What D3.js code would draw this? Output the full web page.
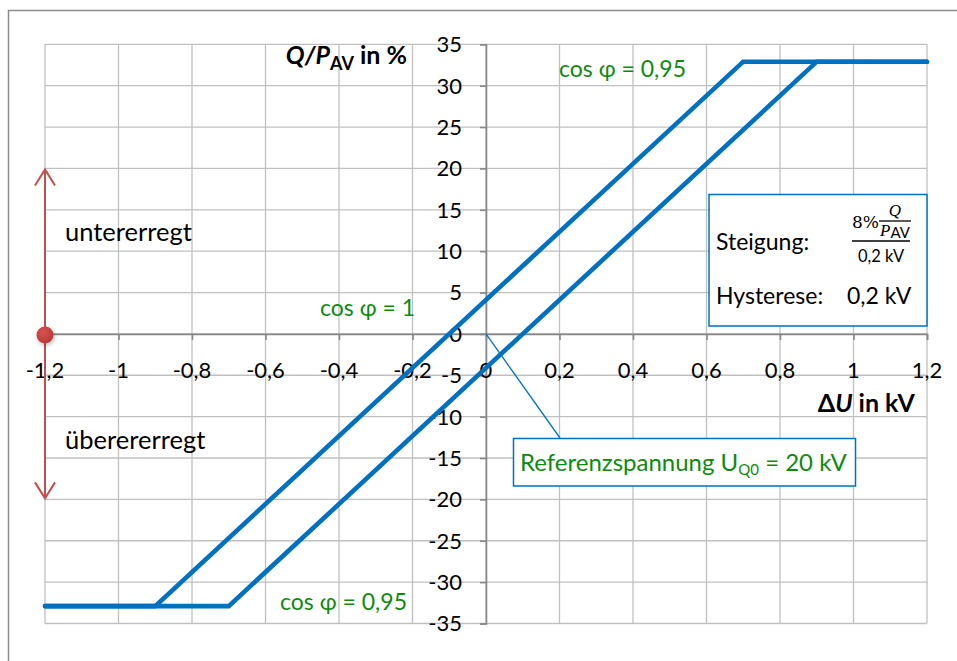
<!DOCTYPE html>
<html><head><meta charset="utf-8">
<script src="https://cdn.jsdelivr.net/npm/d3@7"></script>
<style>
html,body{margin:0;padding:0;background:#fff;}
svg{display:block;font-family:Lato,"Open Sans",sans-serif;}
</style></head>
<body>
<svg id="chart" width="957" height="661"></svg>
<script>
// ---- data ----
const xTicks = [-1.2,-1,-0.8,-0.6,-0.4,-0.2,0,0.2,0.4,0.6,0.8,1,1.2];
const yTicks = [-35,-30,-25,-20,-15,-10,-5,0,5,10,15,20,25,30,35];
const seriesUpperX = [-1.2,-0.9,0.7,1.2];
const seriesLowerX = [-1.2,-0.7,0.9,1.2];
const seriesQ = [-32.9,-32.9,32.9,32.9];
const arrowRange = [-20, 20];
const fmt = v => String(v).replace('.', ',');

(function(){
const svg = d3.select('#chart');
const x = d3.scaleLinear().domain([-1.2,1.2]).range([45,927]);
const y = d3.scaleLinear().domain([-35,35]).range([623.5,44.3]);

// outer frame
svg.append('rect').attr('x',8.5).attr('y',10.5).attr('width',1000).attr('height',700)
  .attr('fill','none').attr('stroke','#8c8c8c').attr('stroke-width',1.5);

// grid
const grid = svg.append('g').attr('stroke','#c0c0c0').attr('stroke-width',1.3);
xTicks.forEach(v=>grid.append('line').attr('x1',x(v)).attr('x2',x(v)).attr('y1',y(35)).attr('y2',y(-35)));
yTicks.forEach(v=>grid.append('line').attr('x1',x(-1.2)).attr('x2',x(1.2)).attr('y1',y(v)).attr('y2',y(v)));

// axes via d3
const xAxis = d3.axisBottom(x).tickValues(xTicks).tickSize(6).tickFormat(()=> '');
const gx = svg.append('g').attr('transform',`translate(0,${y(0)})`).call(xAxis);
const yAxis = d3.axisLeft(y).tickValues(yTicks).tickSize(6).tickFormat(()=> '');
const gy = svg.append('g').attr('transform',`translate(${x(0)},0)`).call(yAxis);
[gx,gy].forEach(g=>{
  g.select('.domain').attr('stroke','#878787').attr('stroke-width',1.6);
  g.selectAll('.tick line').attr('stroke','#878787').attr('stroke-width',1.6);
});

// tick labels
svg.append('g').selectAll('text').data(xTicks).join('text')
  .attr('x',d=>x(d)).attr('y',y(0)+44).attr('text-anchor','middle')
  .attr('font-size',22).attr('fill','#000').text(fmt);
svg.append('g').selectAll('text').data(yTicks).join('text')
  .attr('x',x(0)-24).attr('y',d=>y(d)).attr('dy','0.36em').attr('text-anchor','end')
  .attr('font-size',22).attr('fill','#000').text(d=>String(d));

// series lines
const line = d3.line().x(d=>x(d[0])).y(d=>y(d[1]));
[seriesUpperX, seriesLowerX].forEach(xs=>{
  svg.append('path').datum(xs.map((v,i)=>[v,seriesQ[i]])).attr('d',line)
    .attr('fill','none').attr('stroke','#0070C0').attr('stroke-width',4.6)
    .attr('stroke-linecap','round').attr('stroke-linejoin','miter');
});

// axis titles
const t1 = svg.append('text').attr('x',407).attr('y',64).attr('text-anchor','end')
  .attr('font-size',25).attr('font-weight','bold').attr('fill','#000');
t1.append('tspan').attr('font-style','italic').text('Q/P');
t1.append('tspan').attr('font-size',18).attr('dy',6).text('AV');
t1.append('tspan').attr('dy',-6).text(' in %');
const t2 = svg.append('text').attr('x',915).attr('y',412).attr('text-anchor','end')
  .attr('font-size',25).attr('font-weight','bold').attr('fill','#000');
t2.append('tspan').text('Δ');
t2.append('tspan').attr('font-style','italic').text('U');
t2.append('tspan').text(' in kV');

// green annotations
const green = '#0e8a0e';
svg.append('text').attr('x',559).attr('y',77).attr('font-size',23).attr('fill',green).text('cos φ = 0,95');
svg.append('text').attr('x',320).attr('y',316).attr('font-size',23).attr('fill',green).text('cos φ = 1');
svg.append('text').attr('x',280).attr('y',610).attr('font-size',23).attr('fill',green).text('cos φ = 0,95');

// excitation labels
svg.append('text').attr('x',65).attr('y',241).attr('font-size',25.5).attr('fill','#000').text('untererregt');
svg.append('text').attr('x',65).attr('y',449).attr('font-size',25.5).attr('fill','#000').text('überererregt');

// red arrow
const red = '#C0504D';
const ax = x(-1.2);
const yTop = y(arrowRange[1]), yBot = y(arrowRange[0]);
svg.append('line').attr('x1',ax).attr('x2',ax).attr('y1',yTop+2).attr('y2',yBot-2)
  .attr('stroke',red).attr('stroke-width',2);
svg.append('path').attr('d',`M${ax-10},${yTop+17}L${ax},${yTop+1}L${ax+10},${yTop+17}`)
  .attr('fill','none').attr('stroke',red).attr('stroke-width',2);
svg.append('path').attr('d',`M${ax-10},${yBot-17}L${ax},${yBot-1}L${ax+10},${yBot-17}`)
  .attr('fill','none').attr('stroke',red).attr('stroke-width',2);
const defs = svg.append('defs');
const rg = defs.append('radialGradient').attr('id','dot').attr('cx','40%').attr('cy','35%').attr('r','65%');
rg.append('stop').attr('offset','0%').attr('stop-color','#d9534f');
rg.append('stop').attr('offset','100%').attr('stop-color','#b83a36');
const fl = defs.append('filter').attr('id','sh').attr('x','-50%').attr('y','-50%').attr('width','200%').attr('height','200%');
fl.append('feDropShadow').attr('dx',1).attr('dy',2).attr('stdDeviation',2).attr('flood-color','#000').attr('flood-opacity',0.25);
svg.append('circle').attr('cx',ax).attr('cy',y(0)+1).attr('r',8.5).attr('fill','url(#dot)').attr('filter','url(#sh)');

// info box
svg.append('rect').attr('x',709).attr('y',194.5).attr('width',218).attr('height',131.5)
  .attr('fill','#fff').attr('stroke','#0070C0').attr('stroke-width',1.5);
svg.append('text').attr('x',716).attr('y',250).attr('font-size',23).attr('fill','#000').text('Steigung:');
svg.append('text').attr('x',852).attr('y',228).attr('font-size',17).attr('font-family','"DejaVu Serif","Liberation Serif",serif').attr('fill','#000').text('8%');
svg.append('text').attr('x',895).attr('y',216).attr('text-anchor','middle').attr('font-size',17).attr('font-style','italic').attr('font-family','"Liberation Serif",serif').attr('fill','#000').text('Q');
svg.append('line').attr('x1',879).attr('x2',911).attr('y1',221).attr('y2',221).attr('stroke','#000').attr('stroke-width',1.3);
const pav = svg.append('text').attr('x',880).attr('y',236).attr('font-size',17).attr('font-family','"Liberation Serif",serif').attr('fill','#000');
pav.append('tspan').attr('font-style','italic').text('P');
pav.append('tspan').attr('font-family','Lato,sans-serif').attr('font-size',15).attr('dy',2).text('AV');
svg.append('line').attr('x1',852).attr('x2',910).attr('y1',241).attr('y2',241).attr('stroke','#000').attr('stroke-width',1.4);
svg.append('text').attr('x',881).attr('y',262).attr('text-anchor','middle').attr('font-size',16.5).attr('fill','#000').text('0,2 kV');
svg.append('text').attr('x',716).attr('y',304).attr('font-size',23).attr('fill','#000').text('Hysterese:');
svg.append('text').attr('x',847).attr('y',304).attr('font-size',23).attr('fill','#000').text('0,2 kV');

// reference voltage callout
svg.append('line').attr('x1',x(0)).attr('x2',560).attr('y1',y(0)).attr('y2',438)
  .attr('stroke','#0070C0').attr('stroke-width',1.3);
svg.append('rect').attr('x',513.5).attr('y',438.5).attr('width',342).attr('height',47.5)
  .attr('fill','#fff').attr('stroke','#0070C0').attr('stroke-width',1.5);
const rt = svg.append('text').attr('x',520).attr('y',471).attr('font-size',24).attr('fill',green);
rt.append('tspan').text('Referenzspannung U');
rt.append('tspan').attr('font-size',15).attr('dy',4).text('Q0');
rt.append('tspan').attr('dy',-4).text(' = 20 kV');
})();
</script>
</body></html>
